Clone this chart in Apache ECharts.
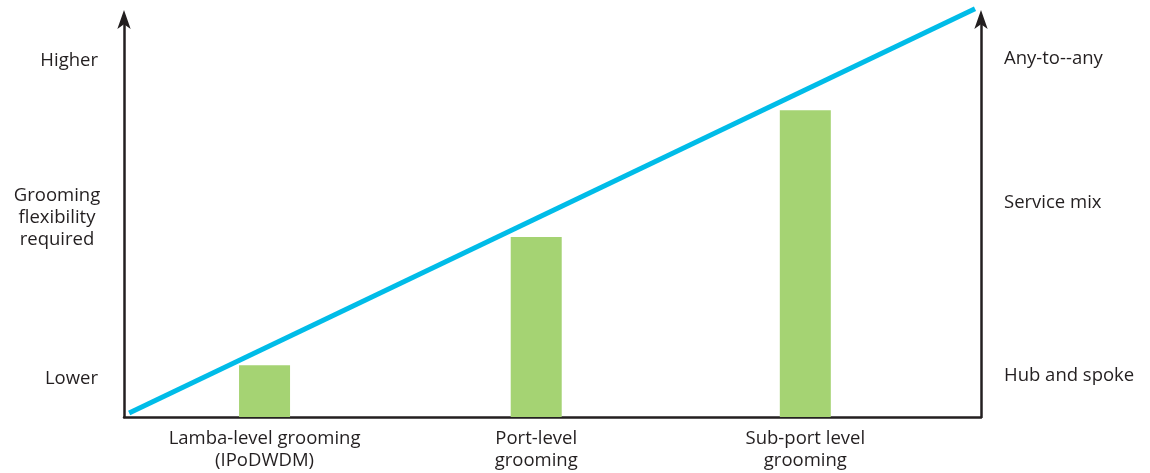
<!DOCTYPE html>
<html>
<head>
<meta charset="utf-8">
<script src="https://cdn.jsdelivr.net/npm/echarts@6/dist/echarts.min.js"></script>
<style>
html,body{margin:0;padding:0;background:#fff;}
#chart{width:1150px;height:473px;}
</style>
</head>
<body>
<div id="chart"></div>
<script>
// ---- data ----
const categories = ['Lamba-level grooming\n(IPoDWDM)', 'Port-level\ngrooming', 'Sub-port level\ngrooming'];
const barPositions = [16.4, 48.1, 79.5];     // position along the horizontal axis (0-100)
const barValues = [13.0, 45.1, 76.9];         // grooming flexibility (0-100)
const lineX = [0.6, 99.3];
const lineY = [1.0, 102.3];
const leftTickValues = [9.5, 89.3];
const leftTickLabels = ['Lower', 'Higher'];
const rightTickValues = [10.3, 53.6, 89.7];
const rightTickLabels = ['Hub and spoke', 'Service mix', 'Any-to--any'];
const yAxisTitle = 'Grooming\nflexibility\nrequired';

const FONT = 'Open Sans';
const FS = 18.5;
const TXT = '#231f20';
const AXIS = '#231f20';

const chart = echarts.init(document.getElementById('chart'), null, {renderer: 'canvas'});

function findLabel(values, labels, v) {
  let best = 0, bd = Infinity;
  values.forEach((x, i) => { const d = Math.abs(x - v); if (d < bd) { bd = d; best = i; } });
  return labels[best];
}

const axisLineStyle = {color: AXIS, width: 2.5};
const arrowLine = {show: true, lineStyle: axisLineStyle, symbol: ['none', 'arrow'], symbolSize: [10, 19], symbolOffset: [0, 8]};

chart.setOption({
  animation: false,
  backgroundColor: '#fff',
  grid: {left: 124, right: 169, top: 18, bottom: 56, containLabel: false, outerBoundsMode: 'none'},
  graphic: [{
    type: 'text',
    x: 57, y: 185,
    style: {
      text: yAxisTitle, fill: TXT, font: FS + 'px "' + FONT + '"',
      lineHeight: 22, align: 'center', verticalAlign: 'top'
    }
  }],
  xAxis: {
    type: 'value', min: 0, max: 100,
    axisLine: {show: true, onZero: false, lineStyle: axisLineStyle},
    axisTick: {show: false},
    splitLine: {show: false},
    axisLabel: {
      customValues: barPositions,
      formatter: v => findLabel(barPositions, categories, v),
      color: TXT, fontFamily: FONT, fontSize: FS, lineHeight: 22, margin: 11, align: 'center'
    }
  },
  yAxis: [{
    type: 'value', min: 0, max: 100, position: 'left',
    axisLine: arrowLine,
    axisTick: {show: false},
    splitLine: {show: false},
    axisLabel: {
      customValues: leftTickValues,
      formatter: v => findLabel(leftTickValues, leftTickLabels, v),
      color: TXT, fontFamily: FONT, fontSize: FS, margin: 26
    }
  }, {
    type: 'value', min: 0, max: 100, position: 'right',
    axisLine: arrowLine,
    axisTick: {show: false},
    splitLine: {show: false},
    axisLabel: {
      customValues: rightTickValues,
      formatter: v => findLabel(rightTickValues, rightTickLabels, v),
      color: TXT, fontFamily: FONT, fontSize: FS, margin: 23
    }
  }],
  series: [{
    type: 'bar',
    data: barPositions.map((x, i) => [x, barValues[i]]),
    barWidth: 51,
    itemStyle: {color: '#a5d373'},
    z: 2
  }, {
    type: 'line',
    data: lineX.map((x, i) => [x, lineY[i]]),
    symbol: 'none',
    clip: false,
    lineStyle: {color: '#00bce8', width: 5},
    z: 3
  }]
});
</script>
</body>
</html>
